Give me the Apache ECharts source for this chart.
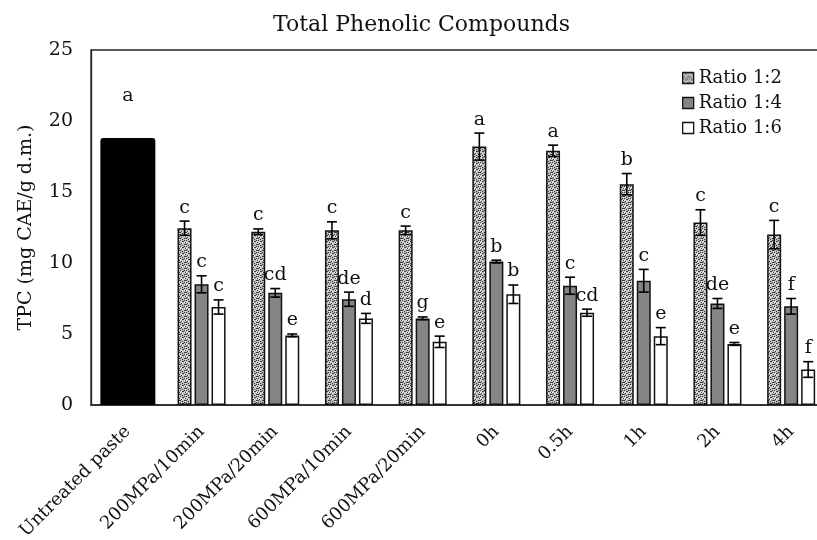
<!DOCTYPE html>
<html>
<head>
<meta charset="utf-8">
<script src="https://cdn.jsdelivr.net/npm/echarts@6/dist/echarts.min.js"></script>
<style>
  html, body { margin: 0; padding: 0; background: #fff; }
  #chart { width: 817px; height: 540px; }
</style>
</head>
<body>
<div id="chart"></div>
<script>
// categories along the x axis
const categories = ['Untreated paste', '200MPa/10min', '200MPa/20min', '600MPa/10min', '600MPa/20min', '0h', '0.5h', '1h', '2h', '4h'];
const seriesNames = ['Ratio 1:2', 'Ratio 1:4', 'Ratio 1:6'];

// untreated paste (single black bar)
const untreated = 18.8;
const untreatedLetter = 'a';

// means (first category is the untreated paste, drawn separately)
const ratio12 = [null, 12.45, 12.2, 12.3, 12.3, 18.2, 17.9, 15.55, 12.85, 12.0];
const ratio14 = [null, 8.5, 7.9, 7.45, 6.1, 10.1, 8.4, 8.75, 7.15, 6.95];
const ratio16 = [null, 6.9, 4.9, 6.1, 4.45, 7.8, 6.5, 4.85, 4.3, 2.5];

// standard deviations
const err12 = [null, 0.5, 0.2, 0.6, 0.3, 0.95, 0.4, 0.75, 0.9, 1.0];
const err14 = [null, 0.6, 0.3, 0.5, 0.1, 0.1, 0.6, 0.8, 0.35, 0.55];
const err16 = [null, 0.5, 0.1, 0.35, 0.4, 0.65, 0.25, 0.6, 0.1, 0.55];

// significance letters
const letters12 = ['', 'c', 'c', 'c', 'c', 'a', 'a', 'b', 'c', 'c'];
const letters14 = ['', 'c', 'cd', 'de', 'g', 'b', 'c', 'c', 'de', 'f'];
const letters16 = ['', 'c', 'e', 'd', 'e', 'b', 'cd', 'e', 'e', 'f'];

const FONT = 'DejaVu Serif';
const BAR_W = 14;
const BAR_PITCH = 17;

// speckled fill used for the 1:2 ratio
function makeSpeckle() {
  const c = document.createElement('canvas');
  c.width = 6; c.height = 6;
  const g = c.getContext('2d');
  g.fillStyle = '#bdbdbd';
  g.fillRect(0, 0, 6, 6);
  const dark = [[0, 0], [3, 1], [1, 3], [4, 4], [2, 5], [5, 2], [4, 0], [0, 4], [2, 1], [5, 4]];
  g.fillStyle = '#3a3a3a';
  dark.forEach(function (p) { g.fillRect(p[0], p[1], 1, 1); });
  const white = [[1, 1], [5, 5], [2, 3], [4, 2], [0, 2]];
  g.fillStyle = '#f4f4f4';
  white.forEach(function (p) { g.fillRect(p[0], p[1], 1, 1); });
  return c;
}

const fills = [
  { image: makeSpeckle(), repeat: 'repeat' },
  '#858585',
  '#ffffff'
];
const means = [ratio12, ratio14, ratio16];
const errs = [err12, err14, err16];
const letters = [letters12, letters14, letters16];

function errorSeries(s) {
  const data = [];
  means[s].forEach(function (v, i) {
    if (v != null) data.push([i, v, errs[s][i]]);
  });
  return {
    type: 'custom',
    name: seriesNames[s] + ' err',
    xAxisIndex: 0,
    yAxisIndex: 0,
    z: 5,
    silent: true,
    data: data,
    renderItem: function (params, api) {
      const cat = api.value(0), v = api.value(1), e = api.value(2);
      const x = api.coord([cat, 0])[0] + (s - 1) * BAR_PITCH;
      const yTop = api.coord([cat, v + e])[1];
      const yBot = api.coord([cat, v - e])[1];
      const line = { stroke: '#000', lineWidth: 1.6 };
      return {
        type: 'group',
        children: [
          { type: 'line', shape: { x1: x, y1: yTop, x2: x, y2: yBot }, style: line },
          { type: 'line', shape: { x1: x - 5, y1: yTop, x2: x + 5, y2: yTop }, style: line },
          { type: 'line', shape: { x1: x - 5, y1: yBot, x2: x + 5, y2: yBot }, style: line },
          {
            type: 'text',
            style: {
              x: x, y: yTop - 4,
              text: letters[s][cat],
              align: 'center', verticalAlign: 'bottom',
              font: '19px "' + FONT + '"', fill: '#111'
            }
          }
        ]
      };
    }
  };
}

const barSeries = seriesNames.map(function (name, s) {
  return {
    name: name,
    type: 'bar',
    xAxisIndex: 0,
    barWidth: BAR_W,
    barGap: ((BAR_PITCH - BAR_W) / BAR_W * 100) + '%',
    data: means[s],
    itemStyle: { color: fills[s], borderColor: '#111', borderWidth: 1.5 }
  };
});

const chart = echarts.init(document.getElementById('chart'), null, { renderer: 'canvas' });

chart.setOption({
  backgroundColor: '#fff',
  animation: false,
  textStyle: { fontFamily: FONT },
  title: {
    text: 'Total Phenolic Compounds',
    left: 268,
    top: 9,
    textStyle: { fontFamily: FONT, fontSize: 22, fontWeight: 'normal', color: '#111' }
  },
  legend: {
    data: seriesNames,
    orient: 'vertical',
    left: 682,
    top: 68,
    padding: 0,
    itemWidth: 11,
    itemHeight: 11,
    itemGap: 5,
    icon: 'rect',
    itemStyle: { borderColor: '#111', borderWidth: 1.3 },
    textStyle: { fontFamily: FONT, fontSize: 18, color: '#111', lineHeight: 20 }
  },
  grid: {
    left: 91,
    top: 50,
    width: 737,
    height: 355,
    outerBoundsMode: 'none',
    containLabel: false,
    show: true,
    borderColor: '#222',
    borderWidth: 1.3
  },
  xAxis: [
    {
      type: 'category',
      data: categories,
      axisLine: { show: true, lineStyle: { color: '#333', width: 2.2 } },
      axisTick: { show: false },
      axisLabel: { interval: 0, rotate: 45, margin: 24, fontFamily: FONT, fontSize: 18, color: '#111' }
    },
    {
      type: 'category',
      data: categories,
      show: false,
      position: 'bottom'
    }
  ],
  yAxis: {
    type: 'value',
    min: 0,
    max: 25,
    interval: 5,
    name: 'TPC (mg CAE/g d.m.)',
    nameLocation: 'middle',
    nameGap: 55,
    nameTextStyle: { fontFamily: FONT, fontSize: 19, color: '#111' },
    axisLine: { show: true, lineStyle: { color: '#222', width: 1.3 } },
    axisTick: { show: false },
    splitLine: { show: false },
    axisLabel: { margin: 18, fontFamily: FONT, fontSize: 19, color: '#111' }
  },
  series: barSeries.concat([
    {
      name: 'Untreated paste',
      type: 'bar',
      xAxisIndex: 1,
      barWidth: 55,
      data: [untreated].concat(categories.slice(1).map(function () { return null; })),
      itemStyle: { color: '#000', borderRadius: [3, 3, 0, 0] },
      label: {
        show: true,
        position: 'top',
        distance: 32,
        formatter: untreatedLetter,
        fontFamily: FONT,
        fontSize: 19,
        color: '#111'
      }
    },
    errorSeries(0),
    errorSeries(1),
    errorSeries(2)
  ])
});
</script>
</body>
</html>
